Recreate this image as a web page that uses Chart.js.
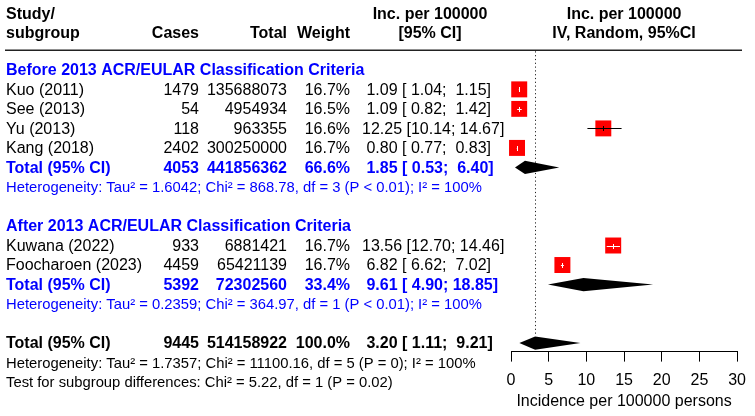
<!DOCTYPE html>
<html>
<head>
<meta charset="utf-8">
<script src="https://cdn.jsdelivr.net/npm/chart.js@4.4.1/dist/chart.umd.min.js"></script>
<style>
html,body{margin:0;padding:0;background:#fff;}
#wrap{position:relative;width:755px;height:416px;}
</style>
</head>
<body>
<div id="wrap"><canvas id="c" width="755" height="416"></canvas></div>
<script>
// ---------- data ----------
const studies = ['Kuo (2011)', 'See (2013)', 'Yu (2013)', 'Kang (2018)', 'Kuwana (2022)', 'Foocharoen (2023)'];
const studyGroup = [0, 0, 0, 0, 1, 1];
const cases = [1479, 54, 118, 2402, 933, 4459];
const totals = [135688073, 4954934, 963355, 300250000, 6881421, 65421139];
const weights = [16.7, 16.5, 16.6, 16.7, 16.7, 16.7];
const incidence = [1.09, 1.09, 12.25, 0.80, 13.56, 6.82];
const ciLower = [1.04, 0.82, 10.14, 0.77, 12.70, 6.62];
const ciUpper = [1.15, 1.42, 14.67, 0.83, 14.46, 7.02];

const groupNames = ['Before 2013 ACR/EULAR Classification Criteria', 'After 2013 ACR/EULAR Classification Criteria'];
const groupCases = [4053, 5392];
const groupTotals = [441856362, 72302560];
const groupWeights = [66.6, 33.4];
const groupIncidence = [1.85, 9.61];
const groupLower = [0.53, 4.90];
const groupUpper = [6.40, 18.85];
const groupHet = [
  'Heterogeneity: Tau\u00B2 = 1.6042; Chi\u00B2 = 868.78, df = 3 (P < 0.01); I\u00B2 = 100%',
  'Heterogeneity: Tau\u00B2 = 0.2359; Chi\u00B2 = 364.97, df = 1 (P < 0.01); I\u00B2 = 100%'
];

const overallCases = [9445];
const overallTotals = [514158922];
const overallWeights = [100.0];
const overallIncidence = [3.20];
const overallLower = [1.11];
const overallUpper = [9.21];
const overallHet = ['Heterogeneity: Tau\u00B2 = 1.7357; Chi\u00B2 = 11100.16, df = 5 (P = 0); I\u00B2 = 100%'];
const subgroupTest = ['Test for subgroup differences: Chi\u00B2 = 5.22, df = 1 (P = 0.02)'];

const xTickValues = [0, 5, 10, 15, 20, 25, 30];
const axisTitle = 'Incidence per 100000 persons';
const headers = {
  study: ['Study/', 'subgroup'], cases: 'Cases', total: 'Total', weight: 'Weight',
  ci: ['Inc. per 100000', '[95% CI]'], plot: ['Inc. per 100000', 'IV, Random, 95%CI']
};

// ---------- row layout ----------
const studyRows = [], groupTitleRows = [], groupTotalRows = [], groupHetRows = [];
let r = -1;
for (let g = 0; g < groupNames.length; g++) {
  groupTitleRows.push(r); r++;
  for (let i = 0; i < studies.length; i++) if (studyGroup[i] === g) { studyRows[i] = r; r++; }
  groupTotalRows.push(r); r++;
  groupHetRows.push(r); r++;
  r++;
}
const overallRow = r, overallHetRow = r + 1, testRow = r + 2;

const pad5 = v => { let s = v.toFixed(2); while (s.length < 5) s = ' ' + s; return s; };
const ciText = (e, l, u) => pad5(e) + ' [' + pad5(l) + '; ' + pad5(u) + ']';

const FONT = '"Liberation Sans", Arial, Helvetica, sans-serif';
const BLUE = '#0000FF';
const COL = { study: 6, cases: 199, total: 287, weight: 350, ci: 362, ciHead: 430 };

const forestPlugin = {
  id: 'forest',
  beforeDatasetsDraw(chart) {
    const ctx = chart.ctx, xs = chart.scales.x, ys = chart.scales.y;
    ctx.save();
    ctx.strokeStyle = '#222';
    ctx.lineWidth = 1;
    ctx.setLineDash([1.2, 2.6]);
    const xp = Math.round(xs.getPixelForValue(overallIncidence[0])) + 0.5;
    ctx.beginPath();
    ctx.moveTo(xp, ys.getPixelForValue(-1.95));
    ctx.lineTo(xp, ys.getPixelForValue(overallRow - 0.36));
    ctx.stroke();
    ctx.restore();
  },
  afterDatasetsDraw(chart) {
    const ctx = chart.ctx, xs = chart.scales.x, ys = chart.scales.y;
    ctx.save();
    for (let i = 0; i < studies.length; i++) {
      const y = Math.round(ys.getPixelForValue(studyRows[i])) + 0.5;
      const xe = xs.getPixelForValue(incidence[i]);
      const xl = xs.getPixelForValue(ciLower[i]);
      const xu = xs.getPixelForValue(ciUpper[i]);
      const half = 8 * Math.sqrt(weights[i] / 16.7);
      const inside = xl >= xe - half && xu <= xe + half;
      ctx.strokeStyle = inside ? '#fff' : '#000';
      ctx.lineWidth = 1;
      ctx.beginPath();
      ctx.moveTo(xl, y); ctx.lineTo(xu, y);
      ctx.moveTo(Math.round(xe) + 0.5, y - 2.5); ctx.lineTo(Math.round(xe) + 0.5, y + 2.5);
      ctx.stroke();
    }
    const diamond = (e, l, u, row) => {
      ctx.beginPath();
      ctx.moveTo(xs.getPixelForValue(l), ys.getPixelForValue(row));
      ctx.lineTo(xs.getPixelForValue(e), ys.getPixelForValue(row - 0.34));
      ctx.lineTo(xs.getPixelForValue(u), ys.getPixelForValue(row));
      ctx.lineTo(xs.getPixelForValue(e), ys.getPixelForValue(row + 0.34));
      ctx.closePath();
      ctx.fillStyle = '#000';
      ctx.fill();
    };
    for (let g = 0; g < groupNames.length; g++) diamond(groupIncidence[g], groupLower[g], groupUpper[g], groupTotalRows[g]);
    diamond(overallIncidence[0], overallLower[0], overallUpper[0], overallRow);
    ctx.restore();
  },
  afterDraw(chart) {
    const ctx = chart.ctx, xs = chart.scales.x, ys = chart.scales.y;
    ctx.save();
    ctx.textBaseline = 'middle';
    const T = (s, x, row, align, bold, color, size) => {
      ctx.font = (bold ? 'bold ' : '') + (size || 16) + 'px ' + FONT;
      ctx.fillStyle = color || '#000';
      ctx.textAlign = align;
      ctx.fillText(s, x, ys.getPixelForValue(row) + 1);
    };
    const h1 = -3.9, h2 = -2.93;
    T(headers.study[0], COL.study, h1, 'left', true);
    T(headers.study[1], COL.study, h2, 'left', true);
    T(headers.cases, COL.cases, h2, 'right', true);
    T(headers.total, COL.total, h2, 'right', true);
    T(headers.weight, COL.weight, h2, 'right', true);
    T(headers.ci[0], COL.ciHead, h1, 'center', true);
    T(headers.ci[1], COL.ciHead, h2, 'center', true);
    const pc = (chart.chartArea.left + chart.chartArea.right) / 2;
    T(headers.plot[0], pc, h1, 'center', true);
    T(headers.plot[1], pc, h2, 'center', true);
    ctx.strokeStyle = '#222';
    ctx.lineWidth = 1.5;
    const ly = ys.getPixelForValue(-2.0);
    ctx.beginPath(); ctx.moveTo(5, ly); ctx.lineTo(742, ly); ctx.stroke();

    for (let i = 0; i < studies.length; i++) {
      const row = studyRows[i];
      T(studies[i], COL.study, row, 'left');
      T(String(cases[i]), COL.cases, row, 'right');
      T(String(totals[i]), COL.total, row, 'right');
      T(weights[i].toFixed(1) + '%', COL.weight, row, 'right');
      T(ciText(incidence[i], ciLower[i], ciUpper[i]), COL.ci, row, 'left');
    }
    for (let g = 0; g < groupNames.length; g++) {
      T(groupNames[g], COL.study, groupTitleRows[g], 'left', true, BLUE);
      const row = groupTotalRows[g];
      T('Total (95% CI)', COL.study, row, 'left', true, BLUE);
      T(String(groupCases[g]), COL.cases, row, 'right', true, BLUE);
      T(String(groupTotals[g]), COL.total, row, 'right', true, BLUE);
      T(groupWeights[g].toFixed(1) + '%', COL.weight, row, 'right', true, BLUE);
      T(ciText(groupIncidence[g], groupLower[g], groupUpper[g]), COL.ci, row, 'left', true, BLUE);
      T(groupHet[g], COL.study, groupHetRows[g], 'left', false, BLUE, 14.8);
    }
    T('Total (95% CI)', COL.study, overallRow, 'left', true);
    T(String(overallCases[0]), COL.cases, overallRow, 'right', true);
    T(String(overallTotals[0]), COL.total, overallRow, 'right', true);
    T(overallWeights[0].toFixed(1) + '%', COL.weight, overallRow, 'right', true);
    T(ciText(overallIncidence[0], overallLower[0], overallUpper[0]), COL.ci, overallRow, 'left', true);
    T(overallHet[0], COL.study, overallHetRow, 'left', false, '#000', 14.8);
    T(subgroupTest[0], COL.study, testRow, 'left', false, '#000', 14.8);
    ctx.restore();
  }
};

const squareData = studies.map((s, i) => ({ x: incidence[i], y: studyRows[i] }));
const squareRadius = weights.map(w => 11.3 * Math.sqrt(w / 16.7));

new Chart(document.getElementById('c'), {
  type: 'scatter',
  data: {
    datasets: [{
      data: squareData,
      pointStyle: 'rect',
      pointRadius: squareRadius,
      pointHoverRadius: squareRadius,
      backgroundColor: '#FF0000',
      borderColor: '#FF0000',
      borderWidth: 0,
      clip: false
    }]
  },
  options: {
    responsive: false,
    devicePixelRatio: 1,
    animation: false,
    events: [],
    layout: { padding: { left: 511, right: 14, top: 0, bottom: 3 } },
    plugins: { legend: { display: false }, tooltip: { enabled: false } },
    scales: {
      x: {
        type: 'linear', position: 'bottom',
        min: xTickValues[0], max: xTickValues[xTickValues.length - 1],
        afterBuildTicks: s => { s.ticks = xTickValues.map(v => ({ value: v })); },
        grid: { display: true, drawOnChartArea: false, drawTicks: true, tickLength: 10, color: '#000', lineWidth: 1 },
        border: { display: true, color: '#000', width: 1 },
        ticks: { color: '#000', font: { family: FONT, size: 16 }, padding: 9, maxRotation: 0, autoSkip: false },
        title: { display: true, text: axisTitle, color: '#000', font: { family: FONT, size: 16 }, padding: { top: -7, bottom: 2 } }
      },
      y: {
        type: 'linear', display: false, reverse: true,
        min: -4.0, max: 13.436
      }
    }
  },
  plugins: [forestPlugin]
});
</script>
</body>
</html>
